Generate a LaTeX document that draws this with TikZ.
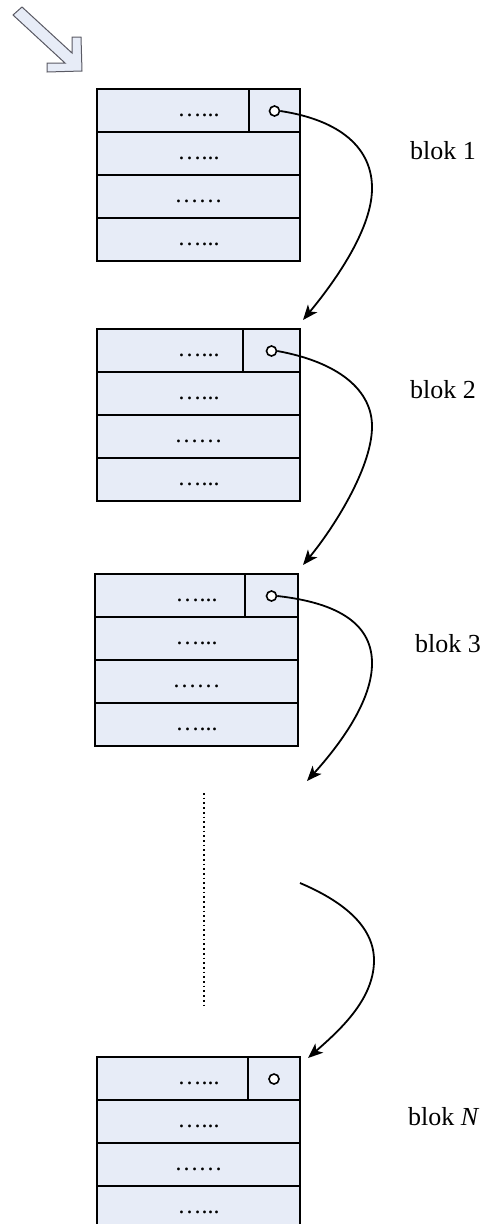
\documentclass[tikz,border=0pt]{standalone}
\usepackage{fontspec}
\setmainfont{Liberation Serif}
\usetikzlibrary{arrows.meta}
\definecolor{cellblue}{RGB}{231,236,247}
\definecolor{arrowedge}{RGB}{90,90,100}
\tikzset{
  cell/.style={draw=black, line width=2pt, fill=cellblue, minimum width=203pt, minimum height=43pt,
    inner sep=0pt, text height=11pt, text depth=0pt, font=\fontsize{24}{26}\selectfont},
  ptrcell/.style={draw=black, line width=2pt, fill=cellblue, minimum height=43pt, inner sep=0pt},
  ptrdot/.style={circle, draw=black, fill=white, line width=1.6pt, minimum size=10pt, inner sep=0pt},
  link/.style={line width=1.8pt, -{Stealth[length=15pt, width=12pt, inset=4pt]}},
  bloklabel/.style={font=\fontsize{26}{28}\selectfont, inner sep=0pt, anchor=base west},
}
\newcommand{\blokdraw}[4]{% name, left x, top y, divider x
  \node[cell] (#1r1) at (#2+101.5, #3+21.5) {…...};
  \node[cell] (#1r2) at (#2+101.5, #3+64.5) {…...};
  \node[cell] (#1r3) at (#2+101.5, #3+107.5) {……};
  \node[cell] (#1r4) at (#2+101.5, #3+150.5) {…...};
  \draw[line width=2pt] (#2,#3) rectangle (#2+203,#3+172);
  \node[ptrcell, minimum width={#2+203-#4}] (#1p) at ({(#4+#2+203)/2}, #3+21.5) {};
  \node[ptrdot] (#1c) at ({(#4+#2+203)/2}, #3+22) {};
}
\begin{document}
\begin{tikzpicture}[x=1pt,y=-1pt]
\useasboundingbox (0,0) rectangle (483,1224);
\clip (0,0) rectangle (483,1224);

% entry arrow
\draw[fill=cellblue, draw=arrowedge, line width=1pt, line join=miter]
  (13,15) -- (22,7) -- (72,53) -- (72,37) -- (81,37) -- (82,71) -- (47,72) -- (47,63) -- (65,63) -- cycle;

\blokdraw{a}{97}{89}{249}
\blokdraw{b}{97}{329}{243}
\blokdraw{c}{95}{574}{245}
\blokdraw{n}{97}{1057}{248}

\node[bloklabel] (la) at (410,159) {blok 1};
\node[bloklabel] (lb) at (410,398) {blok 2};
\node[bloklabel] (lc) at (415,652) {blok 3};
\node[bloklabel] (ln) at (408,1125) {blok \textit{N}};

% dotted continuation
\coordinate (dtop) at (204,793);
\coordinate (dbot) at (204,1009);
\draw[line width=1.7pt, dash pattern=on 1.7pt off 3pt] (dtop) -- (dbot);

% links
\coordinate (tb) at (303,320);
\coordinate (tc) at (303,565);
\coordinate (tx) at (307,781);
\coordinate (sx) at (300,883);
\coordinate (tn) at (308,1058);

\draw[link] (ac.east) .. controls (340,120) and (373,148) .. (372,190)
  .. controls (371,232) and (332,285) .. (tb);
\draw[link] (bc.east) .. controls (338,362) and (373,390) .. (372,428)
  .. controls (371,470) and (332,530) .. (tc);
\draw[link] (cc.east) .. controls (340,603) and (373,625) .. (372,665)
  .. controls (371,705) and (335,750) .. (tx);
\draw[link] (sx) .. controls (340,900) and (375,925) .. (374,962)
  .. controls (373,1000) and (340,1030) .. (tn);
\end{tikzpicture}
\end{document}
